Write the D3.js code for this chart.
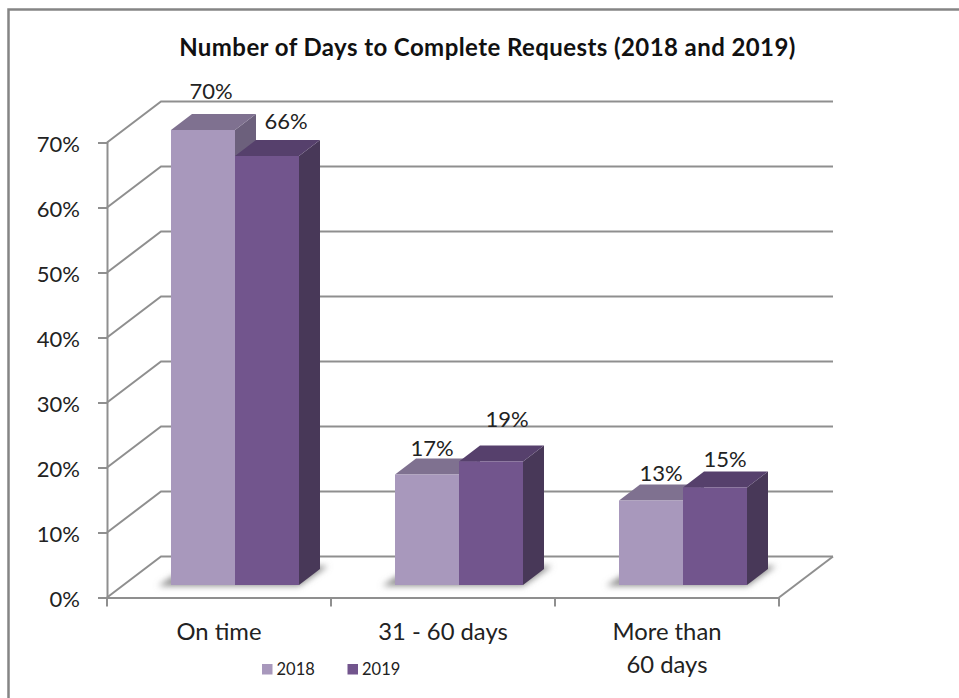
<!DOCTYPE html>
<html><head><meta charset="utf-8">
<script src="https://cdn.jsdelivr.net/npm/d3@7/dist/d3.min.js"></script>
<style>html,body{margin:0;padding:0;background:#fff}svg{display:block}text{font-family:Lato,"Open Sans",sans-serif;fill:#222}</style>
</head><body><svg id="c" width="959" height="698"></svg>
<script>
const categories = ["On time", "31 - 60 days", "More than|60 days"];
const seriesNames = ["2018", "2019"];
const values2018 = [70, 17, 13];
const values2019 = [66, 19, 15];
const yTicks = [0, 10, 20, 30, 40, 50, 60, 70];
const chartTitle = "Number of Days to Complete Requests (2018 and 2019)";

const svg = d3.select("#c");
const W = {x0:107, x1:779, y0:597.5, y1:142.5, dx:54, dy:-41};
const gridCol = "#8f8f8f";
const palette = {
  "2018": {front:"#a898bc", top:"#7f7190", side:"#6c607c"},
  "2019": {front:"#72558d", top:"#56406c", side:"#483858"}
};
const defs = svg.append("defs");
defs.append("filter").attr("id","blur").attr("x","-20%").attr("y","-50%").attr("width","140%").attr("height","200%")
  .append("feGaussianBlur").attr("stdDeviation",3);

// frame
svg.append("path").attr("d","M8.5,698V9.5H959").attr("fill","none").attr("stroke","#858585").attr("stroke-width",2.5);

// title
svg.append("text").attr("x",487.5).attr("y",56).attr("text-anchor","middle")
  .attr("font-size",24).attr("letter-spacing",0.42).attr("font-weight",700).style("fill","#111").text(chartTitle);

const y = d3.scaleLinear().domain([0,70]).range([W.y0,W.y1]);
const x = d3.scaleBand().domain(categories).range([W.x0,W.x1]);

// back wall & side wall grid
const grid = svg.append("g").attr("fill","none").attr("stroke",gridCol).attr("stroke-width",2);
yTicks.forEach(t=>{
  const yy = y(t);
  grid.append("path").attr("d",`M${W.x0},${yy}L${W.x0+W.dx},${yy+W.dy}H${W.x1+W.dx}`);
});
// floor
grid.append("path").attr("d",`M${W.x1},${W.y0}L${W.x1+W.dx},${W.y0+W.dy}`);

// bars
const barW = 64, depth = {dx:21, dy:-16}, base = 585, pct = 6.5;
const barY = d3.scaleLinear().domain([0,70]).range([base, base-70*pct]);
const inner = d3.scaleBand().domain(seriesNames).range([0,barW*2]);
const shift = 16;
const barX = (cat,s)=> x(cat)+(x.bandwidth()-barW*2)/2+shift+inner(s);

categories.forEach(cat=>{
  const x0 = barX(cat,"2018"), x1 = x0+barW*2;
  svg.append("path").attr("filter","url(#blur)").attr("fill","#8c8c8c")
    .attr("d",`M${x0-13},${base+1}H${x1}L${x1+depth.dx+8},${base-19}H${x1-10}V${base-10}H${x0+4}Z`);
});
const series = [["2018",values2018],["2019",values2019]];
categories.forEach((cat,i)=>{
  series.forEach(([name,vals])=>{
    const v = vals[i], c = palette[name];
    const bx = barX(cat,name), ty = barY(v), g = svg.append("g");
    const d = depth;
    g.append("path").attr("fill",c.side)
      .attr("d",`M${bx+barW},${ty}l${d.dx},${d.dy}V${base+d.dy}l${-d.dx},${-d.dy}Z`);
    g.append("path").attr("fill",c.top)
      .attr("d",`M${bx},${ty}l${d.dx},${d.dy}h${barW}l${-d.dx},${-d.dy}Z`);
    g.append("rect").attr("x",bx).attr("y",ty).attr("width",barW).attr("height",base-ty).attr("fill",c.front);
  });
});

// data labels
const labelNudge = {"2018":[[8,-31],[5,-19],[10,-20]], "2019":[[19,-27],[16,-35],[10,-21]]};
series.forEach(([name,vals])=>{
  categories.forEach((cat,i)=>{
    const n = labelNudge[name][i];
    svg.append("text").attr("text-anchor","middle").attr("font-size",22)
      .attr("x",barX(cat,name)+barW/2+n[0]).attr("y",barY(vals[i])+n[1]).text(vals[i]+"%");
  });
});

// y axis
const yAxis = svg.append("g").attr("transform",`translate(${W.x0},0)`)
  .call(d3.axisLeft(y).tickValues(yTicks).tickFormat(d=>d+"%").tickSize(9).tickPadding(18));
yAxis.selectAll("path,line").attr("stroke",gridCol).attr("stroke-width",2);
yAxis.selectAll("text").attr("font-size",22).attr("dy","0.4em");

// x axis
const xAxis = svg.append("g").attr("transform",`translate(0,${W.y0})`)
  .call(d3.axisBottom(x).tickSize(0).tickFormat(""));
xAxis.select("path").attr("stroke",gridCol).attr("stroke-width",2);
const bounds = categories.map(c=>x(c)).concat([W.x1]);
svg.append("g").selectAll("line").data(bounds).join("line")
  .attr("x1",d=>d).attr("x2",d=>d).attr("y1",W.y0).attr("y2",W.y0+9)
  .attr("stroke",gridCol).attr("stroke-width",2);
categories.forEach(cat=>{
  cat.split("|").forEach((ln,j)=>{
    svg.append("text").attr("text-anchor","middle").attr("font-size",23.8)
      .attr("x",x(cat)+x.bandwidth()/2).attr("y",640+j*33).text(ln);
  });
});

// legend
seriesNames.forEach((name,i)=>{
  const lx = 262+i*85.5;
  svg.append("rect").attr("x",lx).attr("y",664).attr("width",10.5).attr("height",10.5).attr("fill",palette[name].front);
  svg.append("text").attr("x",lx+14.5).attr("y",675).attr("font-size",16.5).text(name);
});
</script></body></html>
